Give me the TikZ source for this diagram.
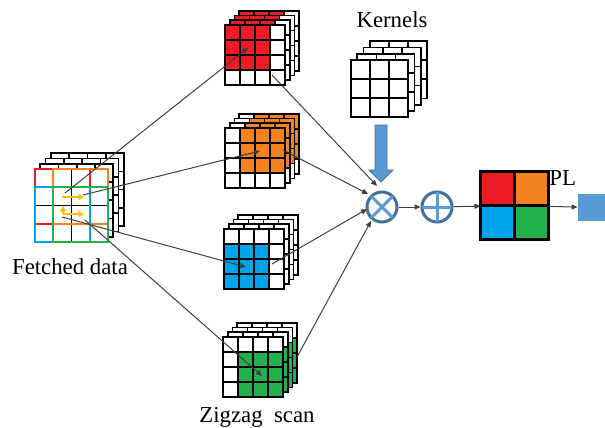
\documentclass[tikz,border=0pt]{standalone}
\usepackage{fontspec}
\setmainfont{Liberation Serif}
\usetikzlibrary{arrows.meta}
\definecolor{cred}{HTML}{ED1C24}
\definecolor{corange}{HTML}{F58220}
\definecolor{cblue}{HTML}{00A2E8}
\definecolor{cgreen}{HTML}{22B14C}
\definecolor{oblue}{HTML}{5B9BD5}
\definecolor{dblue}{HTML}{41719C}
\definecolor{yel}{HTML}{FFC000}
\definecolor{lgray}{HTML}{404040}
\tikzset{
  gridline/.style={black, line width=0.85pt, line cap=rect},
  conn/.style={lgray, line width=0.5pt, -{Triangle[length=3pt,width=2.6pt]}},
  yarrow/.style={yel, line width=1.1pt, -{Triangle[length=2.8pt,width=3pt]}},
  opnode/.style={circle, draw=dblue, fill=white, line width=1.5pt, minimum size=15pt, inner sep=0pt},
  lbl/.style={font=\fontsize{11.4}{13}\selectfont, inner sep=0pt},
  outline/.style={line width=1pt, line cap=rect},
}
\newcommand{\cellstack}[8]{%
  \foreach \k in {3,2,1,0}{%
    \begin{scope}[shift={({#5*\k},{-#5*\k})}]
      \fill[white] (#1,#2) rectangle ++({#3*#4},{#3*#4});
      \foreach \c in {#7}{\foreach \r in {#8}{%
        \fill[#6] ({#1+(\c-1)*#3},{#2+(\r-1)*#3}) rectangle ++(#3,#3);}}
      \foreach \i in {0,...,#4}{%
        \draw[gridline] ({#1+\i*#3},#2) -- ++(0,{#3*#4});
        \draw[gridline] (#1,{#2+\i*#3}) -- ++({#3*#4},0);}
    \end{scope}}}
\begin{document}
\begin{tikzpicture}[x=0.5pt,y=-0.5pt]
\useasboundingbox (0,0) rectangle (605,428);

% fetched data
\cellstack{35}{169}{18.25}{4}{5.3}{white}{1}{1}
\draw[outline, cred] (35,169) rectangle (89.75,223.75);
\draw[outline, corange] (53.25,169) rectangle (108,223.75);
\draw[outline, cblue] (35,187.25) rectangle (89.75,242);
\draw[outline, cgreen] (53.25,187.25) rectangle (108,242);
\coordinate (ya1) at (62,197);
\coordinate (yb1) at (84,197);
\coordinate (ya2) at (63,214);
\coordinate (yb2) at (84,214);
\coordinate (yc2) at (63,206);
\draw[yarrow] (ya1) -- (yb1);
\draw[yarrow] (ya2) -- (yb2);
\draw[yarrow] (ya2) -- (yc2);
\node[lbl, anchor=base] (fdl) at (70,274) {Fetched data};

% four stacks
\cellstack{225}{25}{15}{4}{4.7}{cred}{1,2,3}{1,2,3}
\cellstack{225}{128}{15}{4}{4.7}{corange}{2,3,4}{1,2,3}
\cellstack{224}{229}{15}{4}{4.7}{cblue}{1,2,3}{2,3,4}
\cellstack{223}{337}{15}{4}{4.7}{cgreen}{2,3,4}{2,3,4}
\node[lbl, anchor=base] (zz) at (257,422) {Zigzag~ scan};

% kernels
\cellstack{351}{60}{19.1}{3}{6.3}{white}{1}{1}
\node[lbl, anchor=base] (kl) at (392,27) {Kernels};

% operators
\node[opnode] (mul) at (382,207) {};
\draw[oblue, line width=1.5pt, shorten >=0.8pt, shorten <=0.8pt] (mul.north west) -- (mul.south east);
\draw[oblue, line width=1.5pt, shorten >=0.8pt, shorten <=0.8pt] (mul.north east) -- (mul.south west);
\node[opnode] (add) at (437,207) {};
\draw[oblue, line width=1.5pt, shorten >=0.8pt, shorten <=0.8pt] (add.north) -- (add.south);
\draw[oblue, line width=1.5pt, shorten >=0.8pt, shorten <=0.8pt] (add.west) -- (add.east);

% kernel arrow
\coordinate (ka) at (381,125);
\fill[oblue, draw=dblue, line width=0.4pt] (ka) ++(-6,0) -- ++(12,0) -- ++(0,45) -- ++(6,0) -- ++(-12,12) -- ++(-12,-12) -- ++(6,0) -- cycle;

% PL
\node[draw, line width=1.5pt, minimum size=32.5pt, inner sep=0pt] (pl) at (514.5,205.5) {};
\fill[cred] (pl.north west) rectangle (pl.center);
\fill[corange] (pl.north) rectangle (pl.east);
\fill[cblue] (pl.west) rectangle (pl.south);
\fill[cgreen] (pl.center) rectangle (pl.south east);
\draw[line width=1.5pt] (pl.north) -- (pl.south) (pl.west) -- (pl.east);
\draw[line width=1.5pt] (pl.north west) rectangle (pl.south east);
\node[lbl, anchor=base west] (pll) at (549,185) {PL};
\node[fill=oblue, minimum width=13.5pt, minimum height=13.5pt, inner sep=0pt] (out) at (591.5,207.5) {};

% connectors from fetched data to stacks
\coordinate (f1) at (65,193); \coordinate (s1) at (248,48);
\coordinate (f2) at (83,195); \coordinate (s2) at (260,151);
\coordinate (f3) at (62,217); \coordinate (s3) at (246,267);
\coordinate (f4) at (85,220); \coordinate (s4) at (262,376);
\draw[conn] (f1) -- (s1);
\draw[conn] (f2) -- (s2);
\draw[conn] (f3) -- (s3);
\draw[conn] (f4) -- (s4);

% connectors from stacks to multiplier
\coordinate (o1) at (272,75);  \coordinate (e1) at (377,186);
\coordinate (o2) at (283,150); \coordinate (e2) at (368,194);
\coordinate (o3) at (272,264); \coordinate (e3) at (367,209);
\coordinate (o4) at (297,357); \coordinate (e4) at (371,221);
\draw[conn] (o1) -- (e1);
\draw[conn] (o2) -- (e2);
\draw[conn] (o3) -- (e3);
\draw[conn] (o4) -- (e4);

% main flow
\draw[conn] (mul) -- (add);
\draw[conn] (add) -- (pl);
\draw[conn] (pl) -- (out);
\end{tikzpicture}
\end{document}
